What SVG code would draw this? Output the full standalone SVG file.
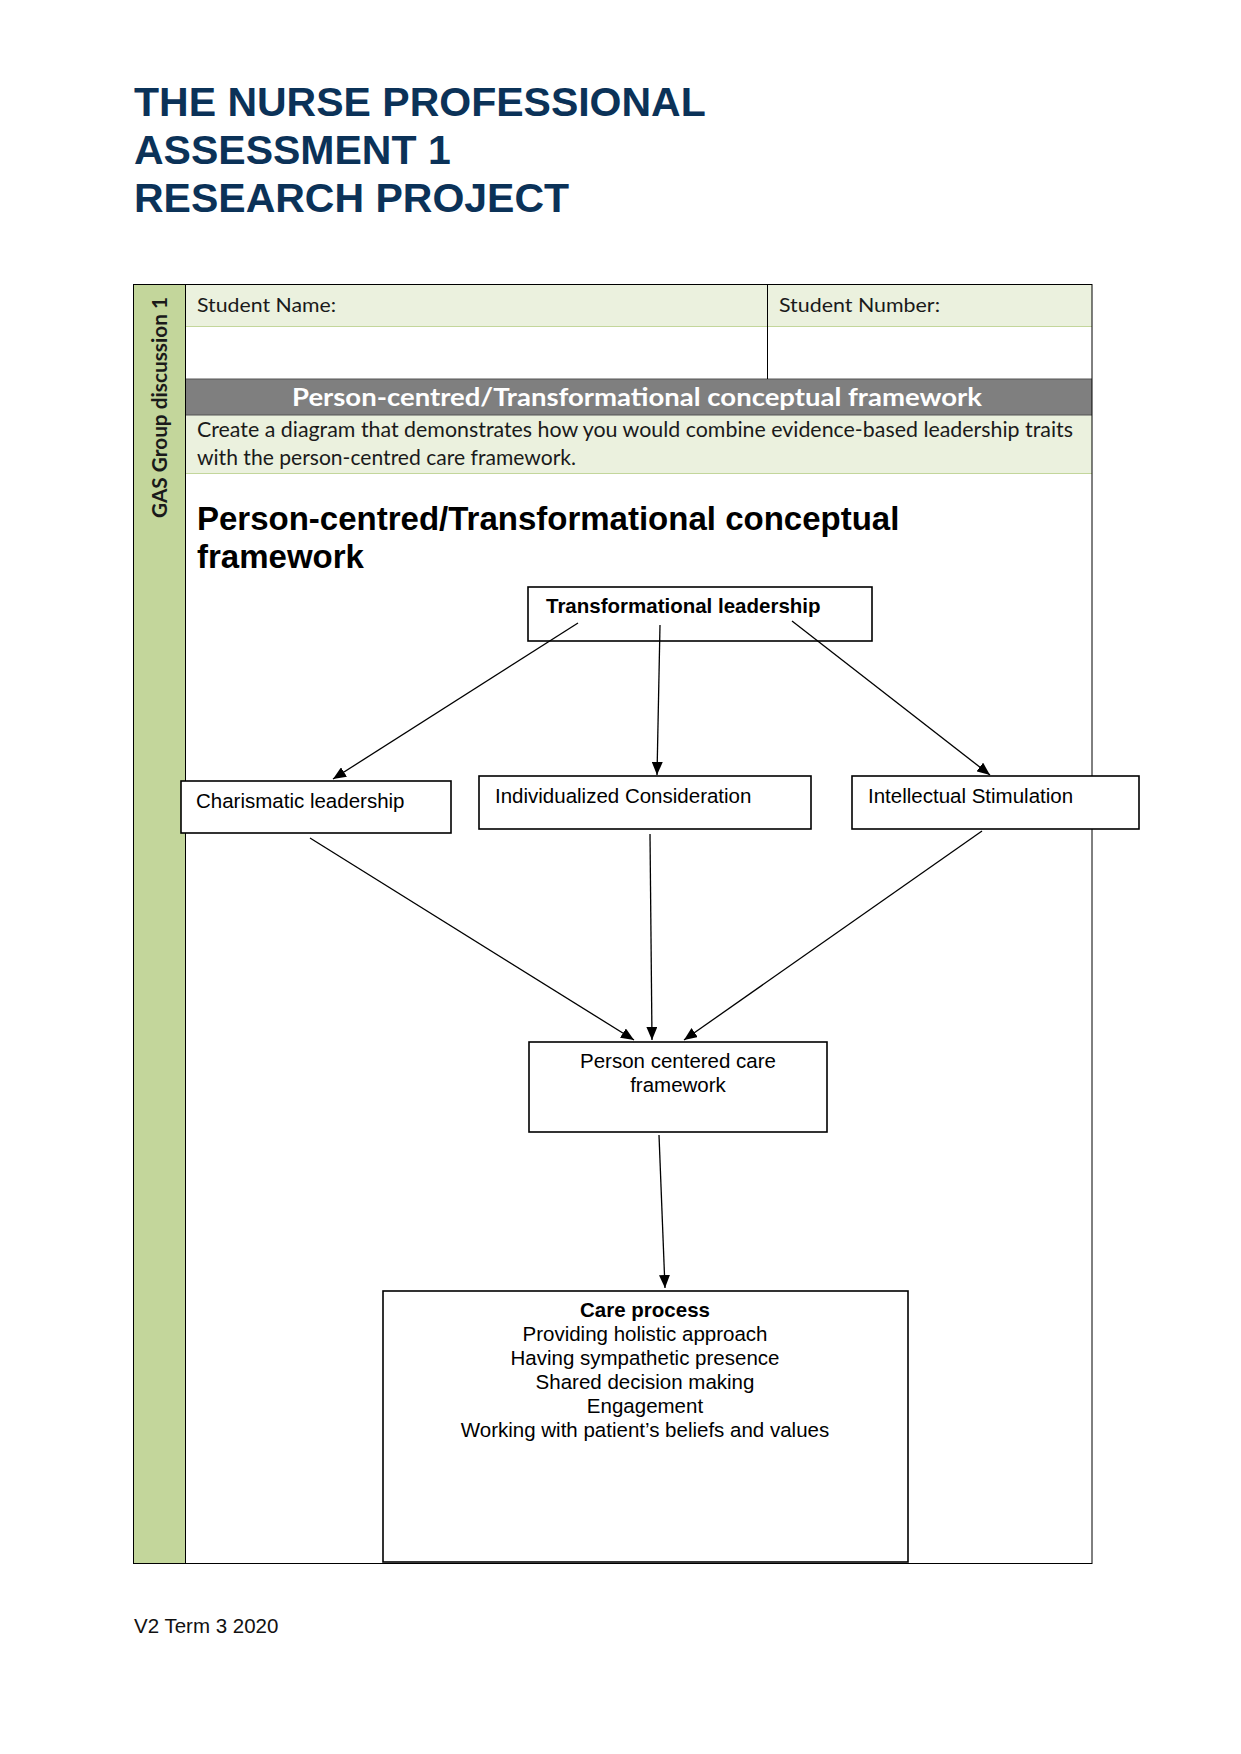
<svg xmlns="http://www.w3.org/2000/svg" width="1241" height="1754" viewBox="0 0 1241 1754">
<style>
.title{font-family:"Liberation Sans",Arial,sans-serif;font-weight:bold;font-size:41px;fill:#0b3258}
.cal{font-family:Lato,"Liberation Sans",sans-serif;font-size:20px;fill:#1a1a1a}
.ins{font-family:Lato,"Liberation Sans",sans-serif;font-size:21px;fill:#1a1a1a}
.band{font-family:Lato,"Liberation Sans",sans-serif;font-size:24px;font-weight:bold;fill:#ffffff}
.side{font-family:Lato,"Liberation Sans",sans-serif;font-size:20px;font-weight:bold;fill:#1a1a1a}
.head{font-family:"Liberation Sans",Arial,sans-serif;font-weight:bold;font-size:33px;fill:#000}
.nt{font-family:"Liberation Sans",Arial,sans-serif;font-size:20.5px;fill:#000}
.nb{font-family:"Liberation Sans",Arial,sans-serif;font-size:20.5px;font-weight:bold;fill:#000}
.box{fill:#fff;stroke:#000;stroke-width:1.6}
.con{stroke:#000;stroke-width:1.3;fill:none;marker-end:url(#ah)}
.foot{font-family:"Liberation Sans",Arial,sans-serif;font-size:20.5px;fill:#111}
</style>
<defs>
<marker id="ah" markerUnits="userSpaceOnUse" markerWidth="13" markerHeight="11" refX="13" refY="5.5" orient="auto">
<path d="M0,0 L13,5.5 L0,11 z" fill="#000"/>
</marker>
</defs>
<rect width="1241" height="1754" fill="#fff"/>
<g id="title">
<text class="title" x="134" y="116">THE NURSE PROFESSIONAL</text>
<text class="title" x="134" y="164">ASSESSMENT 1</text>
<text class="title" x="134" y="212">RESEARCH PROJECT</text>
</g>
<g id="table">
<rect x="133" y="284" width="52" height="1280" fill="#c3d69b"/>
<rect x="185" y="284" width="907" height="42" fill="#ebf1de"/>
<rect x="185" y="379" width="907" height="36" fill="#7f7f7f"/>
<rect x="185" y="415" width="907" height="58" fill="#ebf1de"/>
<line x1="185" y1="326.5" x2="1092" y2="326.5" stroke="#c3d69b" stroke-width="1"/>
<line x1="185" y1="473.5" x2="1092" y2="473.5" stroke="#c3d69b" stroke-width="1"/>
<line x1="185" y1="379" x2="1092" y2="379" stroke="#555" stroke-width="1"/>
<line x1="185" y1="415" x2="1092" y2="415" stroke="#555" stroke-width="1"/>
<line x1="767.5" y1="284" x2="767.5" y2="379" stroke="#000" stroke-width="1"/>
<line x1="185.5" y1="284" x2="185.5" y2="1564" stroke="#000" stroke-width="1"/>
<rect x="133.5" y="284.5" width="958.5" height="1279" fill="none" stroke="#000" stroke-width="1"/>
<text class="side" transform="translate(167,518) rotate(-90)" textLength="221" lengthAdjust="spacingAndGlyphs">GAS Group discussion 1</text>
<text class="cal" x="197" y="312" textLength="139" lengthAdjust="spacingAndGlyphs">Student Name:</text>
<text class="cal" x="779" y="312" textLength="161" lengthAdjust="spacingAndGlyphs">Student Number:</text>
<text class="band" x="637" y="406" text-anchor="middle" textLength="690" lengthAdjust="spacingAndGlyphs">Person-centred/Transformational conceptual framework</text>
<text class="ins" x="197" y="437" textLength="876" lengthAdjust="spacingAndGlyphs">Create a diagram that demonstrates how you would combine evidence-based leadership traits</text>
<text class="ins" x="197" y="465" textLength="379" lengthAdjust="spacingAndGlyphs">with the person-centred care framework.</text>
</g>
<g id="heading">
<text class="head" x="197" y="530">Person-centred/Transformational conceptual</text>
<text class="head" x="197" y="568">framework</text>
</g>
<g id="node-transformational">
<rect class="box" x="528" y="587" width="344" height="54"/>
<text class="nb" x="546" y="613">Transformational leadership</text>
</g>
<g id="node-charismatic">
<rect class="box" x="181" y="781" width="270" height="52"/>
<text class="nt" x="196" y="808">Charismatic leadership</text>
</g>
<g id="node-individualized">
<rect class="box" x="479" y="776" width="332" height="53"/>
<text class="nt" x="495" y="803">Individualized Consideration</text>
</g>
<g id="node-intellectual">
<rect class="box" x="852" y="776" width="287" height="53"/>
<text class="nt" x="868" y="803">Intellectual Stimulation</text>
</g>
<g id="node-pcc">
<rect class="box" x="529" y="1042" width="298" height="90"/>
<text class="nt" x="678" y="1068" text-anchor="middle">Person centered care</text>
<text class="nt" x="678" y="1092" text-anchor="middle">framework</text>
</g>
<g id="node-care">
<rect class="box" x="383" y="1291" width="525" height="271"/>
<text class="nb" x="645" y="1317" text-anchor="middle">Care process</text>
<text class="nt" x="645" y="1341" text-anchor="middle">Providing holistic approach</text>
<text class="nt" x="645" y="1365" text-anchor="middle">Having sympathetic presence</text>
<text class="nt" x="645" y="1389" text-anchor="middle">Shared decision making</text>
<text class="nt" x="645" y="1413" text-anchor="middle">Engagement</text>
<text class="nt" x="645" y="1437" text-anchor="middle">Working with patient’s beliefs and values</text>
</g>
<g id="connectors">
<line class="con" x1="578" y1="623" x2="333" y2="779"/>
<line class="con" x1="660" y1="625" x2="657" y2="775"/>
<line class="con" x1="792" y1="621" x2="990" y2="775"/>
<line class="con" x1="310" y1="838" x2="634" y2="1040"/>
<line class="con" x1="650" y1="834" x2="652" y2="1040"/>
<line class="con" x1="982" y1="831" x2="684" y2="1040"/>
<line class="con" x1="659" y1="1135" x2="665" y2="1288"/>
</g>
<g id="footer">
<text class="foot" x="134" y="1633">V2 Term 3 2020</text>
</g>
</svg>
